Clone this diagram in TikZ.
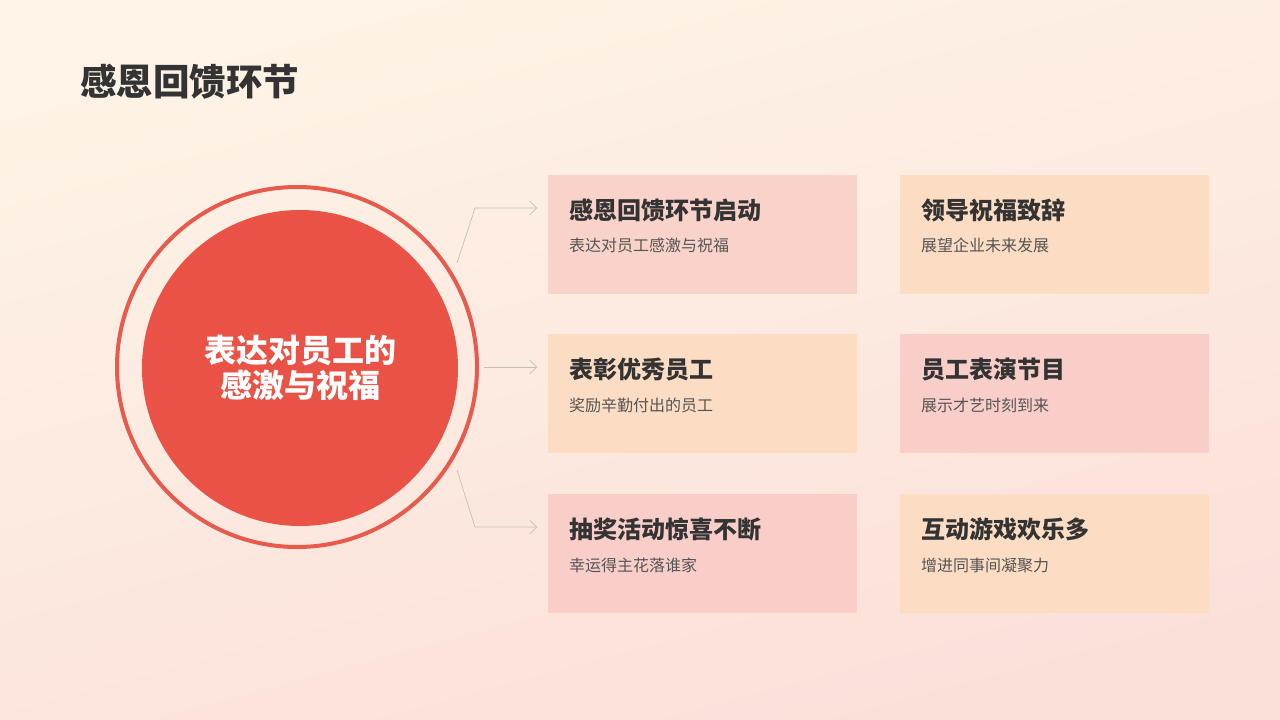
\documentclass[tikz,border=0pt]{standalone}
\usepackage{fontspec}
\setmainfont{Noto Sans CJK SC}
\usetikzlibrary{arrows.meta,calc}
\definecolor{bgtop}{HTML}{FEF3E6}
\definecolor{bgbot}{HTML}{FBE0DA}
\definecolor{redc}{HTML}{EB5246}
\definecolor{ringc}{HTML}{E85A4C}
\definecolor{pinkbox}{HTML}{F9D3C9}
\definecolor{peachbox}{HTML}{FCDDC4}
\definecolor{pinkbox2}{HTML}{F9CEC9}
\definecolor{txtdark}{HTML}{333333}
\definecolor{txtgray}{HTML}{555555}
\definecolor{linegray}{HTML}{C4C0BC}
\begin{document}
\begin{tikzpicture}[x=1pt,y=-1pt,
  cardbox/.style={minimum width=309pt,minimum height=119pt,inner sep=0pt,anchor=north west,draw=none},
  headtxt/.style={anchor=west,inner sep=0pt,text=txtdark,font=\bfseries\fontsize{24}{28}\selectfont},
  subtxt/.style={anchor=west,inner sep=0pt,text=txtgray,font=\fontsize{16}{19}\selectfont},
  conn/.style={draw=linegray,line width=0.7pt,-{Straight Barb[length=7pt,width=14pt]}}]
\useasboundingbox (0,0) rectangle (1280,720);
\shade[shading=axis,top color=bgtop,bottom color=bgbot,shading angle=15] (0,0) rectangle (1280,720);
% title
\node[anchor=west,inner sep=0pt,text=txtdark,font=\bfseries\fontsize{36.5}{40}\selectfont] (title) at (80,82) {感恩回馈环节};
% circle
\node[circle,draw=ringc,line width=4pt,minimum size=360pt,inner sep=0pt] (ring) at (297,367) {};
\node[circle,fill=redc,minimum size=316pt,inner sep=0pt,text=white,align=center,font=\bfseries\fontsize{32}{35}\selectfont] (c) at (300,368) {表达对员工的\\感激与祝福};
% boxes
\node[cardbox,fill=pinkbox] (b1) at (548,175) {};
\node[cardbox,fill=peachbox] (b2) at (900,175) {};
\node[cardbox,fill=peachbox] (b3) at (548,334) {};
\node[cardbox,fill=pinkbox2] (b4) at (900,334) {};
\node[cardbox,fill=pinkbox2] (b5) at (548,494) {};
\node[cardbox,fill=peachbox] (b6) at (900,494) {};
% texts
\node[headtxt] (h1) at (569,210) {感恩回馈环节启动};
\node[subtxt] (s1) at (569,245) {表达对员工感激与祝福};
\node[headtxt] (h2) at (921,210) {领导祝福致辞};
\node[subtxt] (s2) at (921,245) {展望企业未来发展};
\node[headtxt] (h3) at (569,369) {表彰优秀员工};
\node[subtxt] (s3) at (569,405) {奖励辛勤付出的员工};
\node[headtxt] (h4) at (921,369) {员工表演节目};
\node[subtxt] (s4) at (921,405) {展示才艺时刻到来};
\node[headtxt] (h5) at (569,529) {抽奖活动惊喜不断};
\node[subtxt] (s5) at (569,565) {幸运得主花落谁家};
\node[headtxt] (h6) at (921,529) {互动游戏欢乐多};
\node[subtxt] (s6) at (921,565) {增进同事间凝聚力};
% connectors
\coordinate (p1) at (457,263);
\coordinate (k1) at (475,208);
\coordinate (e1) at (537,208);
\coordinate (p2) at (484,367);
\coordinate (e2) at (537,367);
\coordinate (p3) at (457,470);
\coordinate (k3) at (475,527);
\coordinate (e3) at (537,527);
\draw[conn] (p1) -- (k1) -- (e1);
\draw[conn] (p2) -- (e2);
\draw[conn] (p3) -- (k3) -- (e3);
\end{tikzpicture}
\end{document}
